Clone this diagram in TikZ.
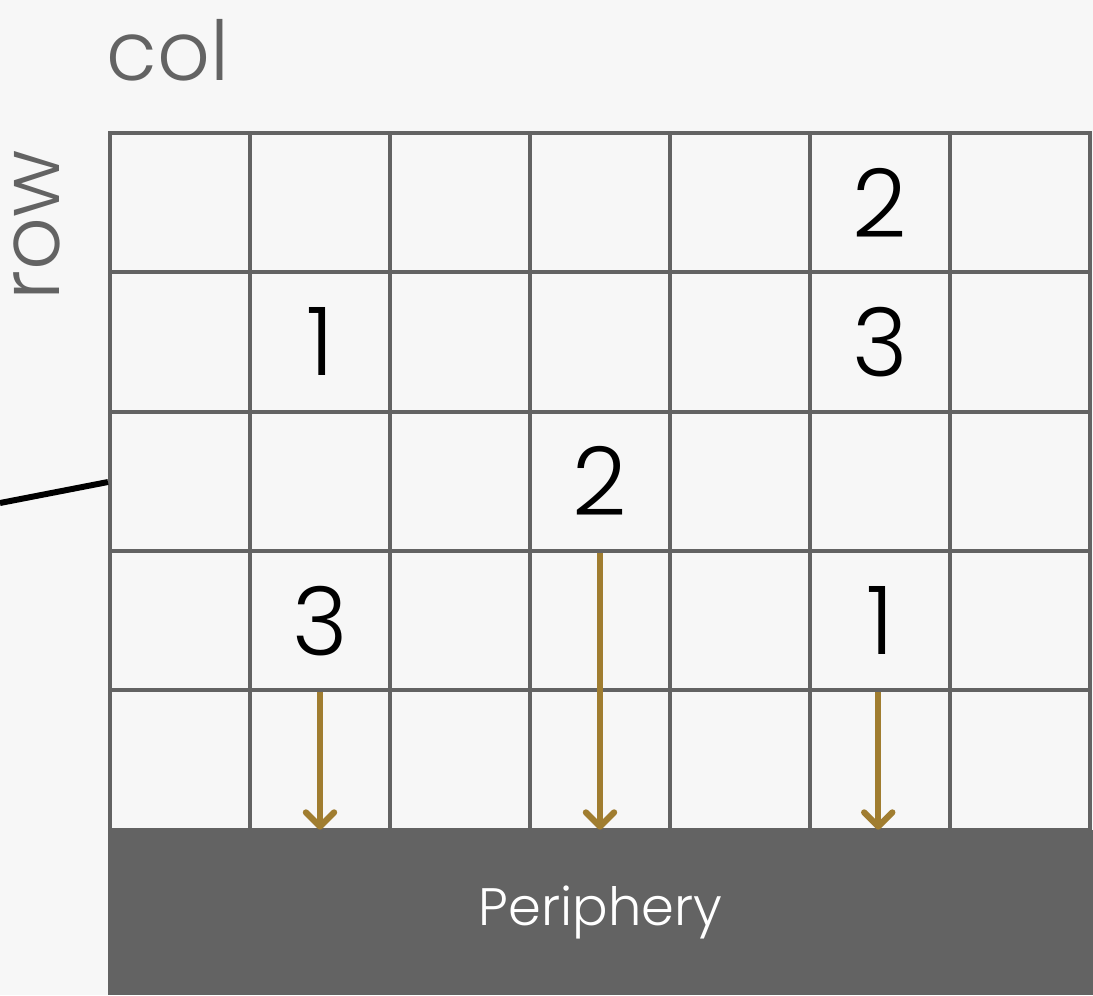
\documentclass[tikz,border=0pt]{standalone}
\usepackage{fontspec}
\setmainfont{Poppins}[UprightFont={* Light}]
\usepackage{xcolor}
\usetikzlibrary{arrows.meta,positioning,calc}

\definecolor{bgray}{HTML}{F7F7F7}
\definecolor{lgray}{HTML}{636363}
\definecolor{gold}{HTML}{A07D30}

\tikzset{
    cell/.style={draw=lgray, line width=2.3pt, minimum width=2.8cm, minimum height=2.788cm, inner sep=0pt},
    entry/.style={font=\fontsize{54}{58}\selectfont},
    axislbl/.style={lgray, font=\fontsize{47}{50}\selectfont, anchor=base},
    flow/.style={gold, line width=3.6pt, -{Straight Barb[round, length=8pt, width=16pt]}},
}

\begin{document}
\begin{tikzpicture}[x=0.02cm, y=-0.02cm]
% Background
\fill[bgray] (0,0) rectangle (1093,995);
\useasboundingbox (0,0) rectangle (1093,995);

% Axis labels
\node[axislbl] (collbl) at (168,80) {col};
\node[axislbl, rotate=90] (rowlbl) at (59,225) {row};

% Grid of cells (5 rows x 7 cols)
\foreach \r in {0,...,4}
  \foreach \c in {0,...,6}
    \node[cell] (c-\r-\c) at (180+140*\c, 202.5+139.4*\r) {};

% Entries
\node[entry] (e-0-5) at (c-0-5) {2};
\node[entry] (e-1-1) at (c-1-1) {1};
\node[entry] (e-1-5) at (c-1-5) {3};
\node[entry] (e-2-3) at (c-2-3) {2};
\node[entry] (e-3-1) at (c-3-1) {3};
\node[entry] (e-3-5) at (c-3-5) {1};

% Periphery bar
\node[fill=lgray, minimum width=19.7cm, minimum height=3.3cm, inner sep=0pt, text=white, font=\fontsize{30}{34}\selectfont] (peri) at (600.5,912.5) {Periphery};

% Incoming wire
\coordinate (wire) at (0,503);
\draw[black, line width=3.4pt] (wire) -- (c-2-0.west |- 0,482);

% Outputs to periphery
\draw[flow] (c-3-1.south) -- (c-3-1.south |- peri.north);
\draw[flow] (c-2-3.south) -- (c-2-3.south |- peri.north);
\draw[flow] ([xshift=-1pt]c-3-5.south) -- ([xshift=-1pt]c-3-5.south |- peri.north);

\end{tikzpicture}
\end{document}
